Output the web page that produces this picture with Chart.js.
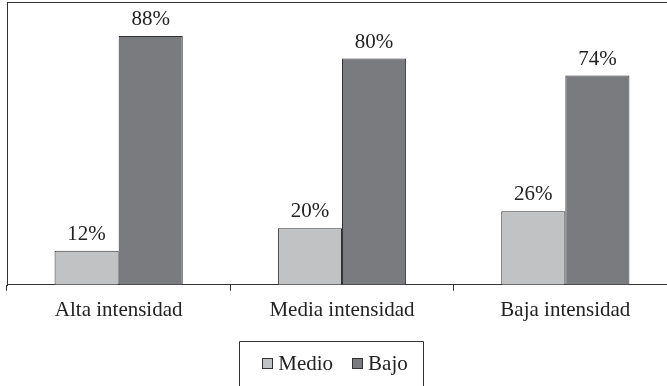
<!DOCTYPE html>
<html><head><meta charset="utf-8">
<script src="https://cdn.jsdelivr.net/npm/chart.js@4"></script>
<style>
html,body{margin:0;padding:0;background:#fff;overflow:hidden;width:667px;height:386px;}
#wrap{position:absolute;left:0;top:0;width:680px;height:400px;}
</style></head>
<body>
<div id="wrap"><canvas id="c" width="680" height="400"></canvas></div>
<script>
const categories = ["Alta intensidad", "Media intensidad", "Baja intensidad"];
const medio = [12, 20, 26];
const bajo = [88, 80, 74];
const seriesNames = ["Medio", "Bajo"];

const FONT = "'Liberation Serif', 'Times New Roman', serif";
const TEXT = "#222";
const LINE = "#333";

const frame = {
  id: 'frame',
  afterDraw(chart) {
    const ctx = chart.ctx, a = chart.chartArea;
    ctx.save();
    ctx.fillStyle = LINE;
    const l = Math.round(a.left), t = Math.round(a.top), r = Math.round(a.right), b = Math.round(a.bottom);
    ctx.fillRect(l, t, r - l + 1, 1);
    ctx.fillRect(l, t, 1, b - t + 1);
    ctx.fillRect(r, t, 1, b - t + 1);
    // value labels
    ctx.fillStyle = TEXT; ctx.font = "21px " + FONT;
    ctx.textAlign = 'center'; ctx.textBaseline = 'alphabetic';
    chart.data.datasets.forEach((ds, i) => {
      chart.getDatasetMeta(i).data.forEach((bar, j) => {
        ctx.fillText(ds.data[j] + '%', bar.x, bar.y - 11);
      });
    });
    // legend (drawn below the axis labels)
    const cx = 335, cy = 363;
    ctx.strokeStyle = LINE; ctx.lineWidth = 1;
    ctx.font = "21px " + FONT;
    ctx.textAlign = 'left'; ctx.textBaseline = 'middle';
    const items = chart.data.datasets.map(d => ({ text: d.label, color: d.backgroundColor }));
    const box = 11, gap = 5, between = 19;
    let total = 0;
    items.forEach((it, i) => { it.w = box + gap + ctx.measureText(it.text).width; total += it.w + (i ? between : 0); });
    let x = cx - total / 2;
    const bx0 = Math.round(x - 23) + 0.5, bx1 = Math.round(x + total + 15) + 0.5;
    ctx.beginPath();
    ctx.moveTo(bx0, 420); ctx.lineTo(bx0, 341.5); ctx.lineTo(bx1, 341.5); ctx.lineTo(bx1, 420);
    ctx.stroke();
    items.forEach(it => {
      ctx.fillStyle = it.color;
      ctx.fillRect(Math.round(x), cy - 5, box, box);
      ctx.strokeRect(Math.round(x) + 0.5, cy - 5 + 0.5, box - 1, box - 1);
      ctx.fillStyle = TEXT;
      ctx.fillText(it.text, x + box + gap, cy + 1);
      x += it.w + between;
    });
    ctx.restore();
  }
};

new Chart(document.getElementById('c'), {
  type: 'bar',
  data: {
    labels: categories,
    datasets: [
      { label: seriesNames[0], data: medio, backgroundColor: '#c1c2c4', borderColor: LINE, borderWidth: 1 },
      { label: seriesNames[1], data: bajo, backgroundColor: '#7a7b7f', borderColor: LINE, borderWidth: 1 }
    ]
  },
  options: {
    responsive: false,
    animation: false,
    devicePixelRatio: 1,
    layout: { padding: { left: 7, top: 2, right: 3, bottom: 70 } },
    datasets: { bar: { categoryPercentage: 0.574, barPercentage: 1 } },
    scales: {
      x: {
        grid: { offset: true, drawOnChartArea: false, drawTicks: true, tickLength: 6, color: LINE },
        border: { display: true, color: LINE },
        ticks: { color: TEXT, font: { family: FONT, size: 21 }, padding: 7, maxRotation: 0 }
      },
      y: { display: false, min: 0, max: 100 }
    },
    plugins: {
      legend: { display: false },
      tooltip: { enabled: false }
    }
  },
  plugins: [frame]
});
</script>
</body></html>
